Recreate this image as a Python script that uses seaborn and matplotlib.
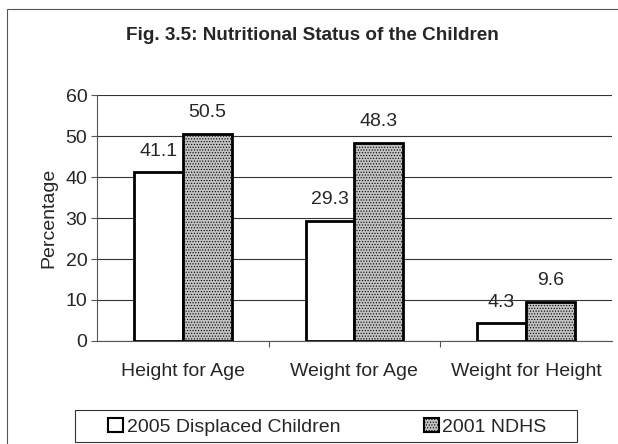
import pandas as pd
import matplotlib.pyplot as plt
import seaborn as sns
from matplotlib.patches import Patch, Rectangle

# Data
categories = ['Height for Age', 'Weight for Age', 'Weight for Height']
displaced_2005 = [41.1, 29.3, 4.3]
ndhs_2001 = [50.5, 48.3, 9.6]
series = ['2005 Displaced Children', '2001 NDHS']

df = pd.DataFrame({
    'Indicator': categories * 2,
    'Value': displaced_2005 + ndhs_2001,
    'Series': [series[0]] * 3 + [series[1]] * 3,
})

sns.set_style('white')
plt.rcParams['font.family'] = ['Liberation Sans', 'DejaVu Sans']
plt.rcParams['hatch.color'] = '#8c8c8c'
plt.rcParams['hatch.linewidth'] = 0.5

fig = plt.figure(figsize=(6.18, 4.44), dpi=100)
ax = fig.add_axes([0.157, 0.232, 0.833, 0.554])

fills = ['white', '#c2c2c2']
sns.barplot(data=df, x='Indicator', y='Value', hue='Series', hue_order=series,
            palette=fills, width=0.57, edgecolor='black', linewidth=2,
            legend=False, ax=ax, zorder=3)

for cont, fc in zip(ax.containers, fills):
    for bar in cont:
        bar.set_facecolor(fc)
        if fc != 'white':
            bar.set_hatch('......')
            bar.set_edgecolor('black')
    ax.bar_label(cont, fmt='%.1f', padding=9, fontsize=14)

ax.set_ylim(0, 60)
ax.set_xlim(-0.5, 2.5)
ax.set_yticks(range(0, 61, 10))
ax.yaxis.grid(True, color='#333333', linewidth=0.8, zorder=0)
ax.set_axisbelow(True)
for s in ['top', 'right']:
    ax.spines[s].set_visible(False)
for s in ['left', 'bottom']:
    ax.spines[s].set_color('#555555')
    ax.spines[s].set_linewidth(0.8)

ax.set_xlabel('')
ax.set_ylabel('Percentage', fontsize=14, labelpad=6)
ax.tick_params(axis='y', labelsize=14, left=True, length=4, width=0.8, color='#555555', pad=3)
ax.tick_params(axis='x', labelsize=14, bottom=False, pad=12)
ax.set_xticks([0.5, 1.5], minor=True)
ax.tick_params(axis='x', which='minor', bottom=True, length=4, width=0.8, color='#555555')

fig.text(0.506, 0.921, 'Fig. 3.5: Nutritional Status of the Children',
         ha='center', va='center', fontsize=13.6, fontweight='bold')

handles = [Patch(facecolor='white', edgecolor='black', linewidth=1.5),
           Patch(facecolor='#c2c2c2', edgecolor='black', linewidth=1.5, hatch='......')]
leg = fig.legend(handles, series, loc='center', bbox_to_anchor=(0.530, 0.039),
                 ncol=2, fontsize=14, frameon=False,
                 handlelength=0.75, handleheight=0.75, handletextpad=0.2,
                 columnspacing=4.3, borderpad=0.25)

# legend box, wider than the entries as in the original
fig.patches.append(Rectangle((75 / 618, 1 - 442 / 444), 502 / 618, 32 / 444,
                             transform=fig.transFigure, fill=False,
                             edgecolor='#333333', linewidth=0.8))

# outer frame of the original figure
fig.patches.append(Rectangle((0.011, -0.05), 1.05, 1.03, transform=fig.transFigure,
                             fill=False, edgecolor='#555555', linewidth=0.8))

fig.savefig('out.png', dpi=100)
